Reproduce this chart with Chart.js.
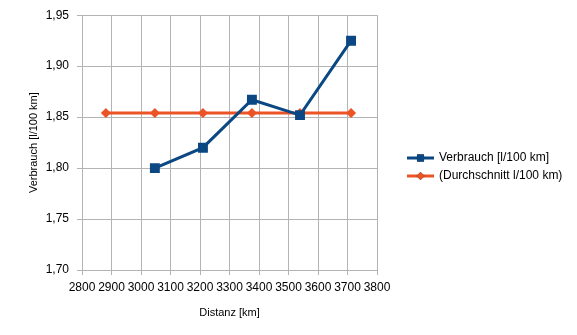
<!DOCTYPE html>
<html>
<head>
<meta charset="utf-8">
<script src="https://cdn.jsdelivr.net/npm/chart.js@4/dist/chart.umd.min.js"></script>
<style>
  body { margin: 0; background: #fff; }
  canvas { display: block; }
</style>
</head>
<body>
<canvas id="myChart" width="577" height="335"></canvas>
<script>
// Distanzen (km) und Verbrauchswerte
const distanz = [2881, 3047, 3210, 3376, 3539, 3712];
const verbrauch = [null, 1.800, 1.820, 1.867, 1.852, 1.925];
const durchschnitt = [1.854, 1.854, 1.854, 1.854, 1.854, 1.854];
const xTicks = [2800, 2900, 3000, 3100, 3200, 3300, 3400, 3500, 3600, 3700, 3800];
const yTicks = [1.70, 1.75, 1.80, 1.85, 1.90, 1.95];

const blau = "#0a4783";
const orange = "#ec5426";
const grid = "#b3b3b3";
const fontFamily = "'Liberation Sans', Arial, sans-serif";

const toPoints = (ys) =>
  distanz.map((x, i) => ({ x: x, y: ys[i] })).filter((p) => p.y !== null);

// Legende rechts: Linie + Marker + Text
const legendPlugin = {
  id: "lineLegend",
  afterDraw(chart) {
    const c = chart.ctx;
    const rows = [158, 176];
    chart.data.datasets.forEach((ds, i) => {
      const y = rows[i];
      c.save();
      c.strokeStyle = ds.borderColor;
      c.lineWidth = 3;
      c.beginPath();
      c.moveTo(407, y);
      c.lineTo(434, y);
      c.stroke();
      Chart.helpers.drawPoint(c, {
        pointStyle: ds.pointStyle,
        radius: ds.legendRadius,
        borderWidth: 0
      }, 420.5, y);
      c.fillStyle = ds.borderColor;
      c.fill();
      c.fillStyle = "#000";
      c.font = "12px " + fontFamily;
      c.textBaseline = "middle";
      c.fillText(ds.label, 439, y);
      c.restore();
    });
  }
};

new Chart(document.getElementById("myChart"), {
  type: "scatter",
  data: {
    datasets: [
      {
        label: "Verbrauch [l/100 km]",
        data: toPoints(verbrauch),
        showLine: true,
        borderColor: blau,
        backgroundColor: blau,
        borderWidth: 3,
        pointStyle: "rect",
        pointRadius: 7,
        pointHoverRadius: 7,
        legendRadius: 5,
        pointBorderWidth: 0
      },
      {
        label: "(Durchschnitt l/100 km)",
        data: toPoints(durchschnitt),
        showLine: true,
        borderColor: orange,
        backgroundColor: orange,
        borderWidth: 3,
        pointStyle: "rectRot",
        pointRadius: 5,
        pointHoverRadius: 5,
        legendRadius: 4,
        pointBorderWidth: 0
      }
    ]
  },
  options: {
    responsive: false,
    animation: false,
    layout: { padding: { top: 15, right: 200, left: 0, bottom: 15 } },
    plugins: {
      legend: { display: false },
      tooltip: { enabled: false }
    },
    scales: {
      x: {
        type: "linear",
        min: 2800,
        max: 3800,
        afterBuildTicks(scale) {
          scale.ticks = xTicks.map((v) => ({ value: v }));
        },
        afterFit(scale) { scale.height = 50; },
        grid: { color: grid, tickLength: 5, lineWidth: 1 },
        border: { color: grid, width: 1 },
        ticks: {
          color: "#000",
          font: { family: fontFamily, size: 12 },
          padding: 5,
          maxRotation: 0,
          autoSkip: false,
          callback: (v) => String(v)
        },
        title: {
          display: true,
          text: "Distanz [km]",
          color: "#000",
          font: { family: fontFamily, size: 11 },
          padding: { top: 4, bottom: 0 }
        }
      },
      y: {
        min: 1.70,
        max: 1.95,
        afterBuildTicks(scale) {
          scale.ticks = yTicks.map((v) => ({ value: v }));
        },
        afterFit(scale) { scale.width = 82; },
        grid: { color: grid, tickLength: 5, lineWidth: 1 },
        border: { color: grid, width: 1 },
        ticks: {
          color: "#000",
          font: { family: fontFamily, size: 12 },
          padding: 8,
          callback: (v) => v.toFixed(2).replace(".", ",")
        },
        title: {
          display: true,
          text: "Verbrauch [l/100 km]",
          color: "#000",
          font: { family: fontFamily, size: 11 },
          padding: { top: 27, bottom: 0 }
        }
      }
    }
  },
  plugins: [legendPlugin]
});
</script>
</body>
</html>
